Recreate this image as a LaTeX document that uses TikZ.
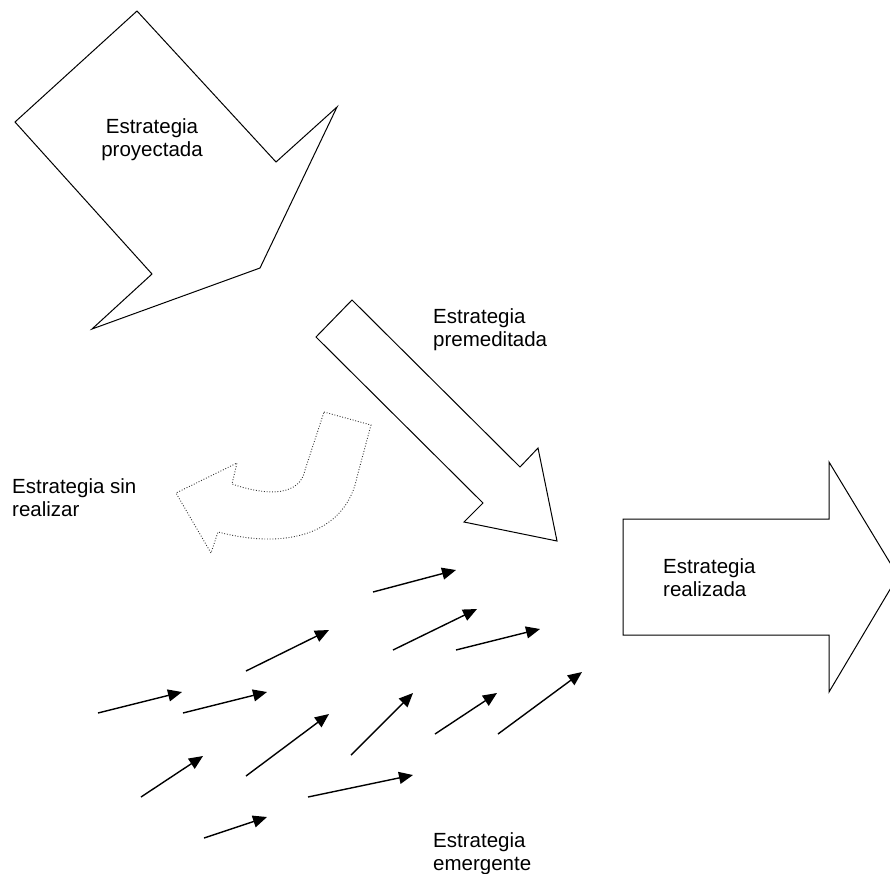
\documentclass[tikz,border=0pt]{standalone}
\usepackage{fontspec}
\setmainfont{Liberation Sans}
\usetikzlibrary{arrows.meta}
\begin{document}
\begin{tikzpicture}[x=1pt,y=-1pt,
  outlineshape/.style={draw=black,line width=1pt,line join=miter},
  dotshape/.style={draw=black!80,line width=0.9pt,dash pattern=on 0.9pt off 1.8pt},
  smallarrow/.style={draw=black,line width=1.4pt,-{Triangle[length=14pt,width=12pt]}},
  lbl/.style={inner sep=0pt,font=\fontsize{20.5}{23}\selectfont}]
\useasboundingbox (0,0) rectangle (890,873);
% Estrategia proyectada
\draw[outlineshape] (137,11) -- (15,122) -- (152,274) -- (92,329) -- (260,268) -- (337,107) -- (276,162) -- cycle;
\node[lbl,anchor=base] (proy) at (152,133) {\begin{tabular}[t]{@{}c@{}}Estrategia\\proyectada\end{tabular}};
% Estrategia premeditada
\draw[outlineshape] (352,300) -- (520,467) -- (538,448) -- (557,541) -- (464,522) -- (483,503) -- (316,337) -- cycle;
\node[lbl,anchor=base west] (prem) at (433,323) {\begin{tabular}[t]{@{}l@{}}Estrategia\\premeditada\end{tabular}};
% Estrategia sin realizar (dotted)
\draw[dotshape] (324,412) -- (371,425) -- (357,477)
  .. controls (347,528) and (295,552) .. (218,532)
  -- (211,553) -- (176,493) -- (237,463) -- (232,484)
  .. controls (270,497) and (300,495) .. (305,470) -- cycle;
\node[lbl,anchor=base west] (sin) at (12,493) {\begin{tabular}[t]{@{}l@{}}Estrategia sin\\realizar\end{tabular}};
% Estrategia realizada
\draw[outlineshape] (623,519) -- (829,519) -- (829,462) -- (898,576) -- (829,692) -- (829,635) -- (623,635) -- cycle;
\node[lbl,anchor=base west] (real) at (663,573) {\begin{tabular}[t]{@{}l@{}}Estrategia\\realizada\end{tabular}};
% Estrategia emergente
\node[lbl,anchor=base west] (emer) at (433,847) {\begin{tabular}[t]{@{}l@{}}Estrategia\\emergente\end{tabular}};
% small arrows
\draw[smallarrow] (98,713) -- (182,692);
\draw[smallarrow] (183,713) -- (267,692);
\draw[smallarrow] (246,671) -- (329,630);
\draw[smallarrow] (373,592) -- (456,570);
\draw[smallarrow] (393,650) -- (477,609);
\draw[smallarrow] (456,650) -- (540,629);
\draw[smallarrow] (141,797) -- (203,756);
\draw[smallarrow] (246,776) -- (329,714);
\draw[smallarrow] (351,755) -- (413,693);
\draw[smallarrow] (435,734) -- (497,693);
\draw[smallarrow] (498,734) -- (582,672);
\draw[smallarrow] (308,797) -- (413,775);
\draw[smallarrow] (204,838) -- (267,817);
\end{tikzpicture}
\end{document}
